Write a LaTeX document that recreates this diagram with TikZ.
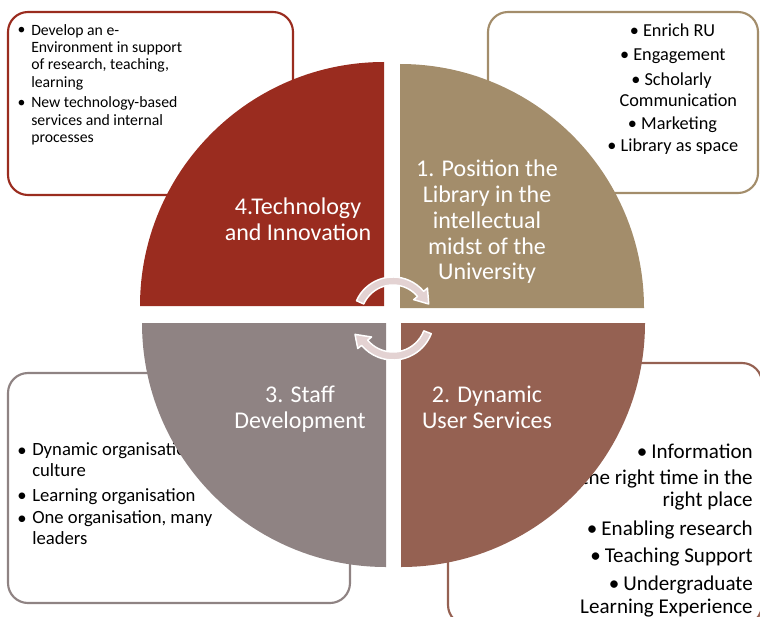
\documentclass[tikz,border=0pt]{standalone}
\usepackage{fontspec}
\setmainfont{Carlito}
\usetikzlibrary{calc}
\definecolor{cTL}{HTML}{9A2C1F}
\definecolor{cTR}{HTML}{A38D6B}
\definecolor{cBL}{HTML}{8F8383}
\definecolor{cBR}{HTML}{956152}
\definecolor{cArrow}{HTML}{E3D2D2}
\begin{document}
\begin{tikzpicture}[x=0.75pt,y=-0.75pt,
  boxsty/.style={line width=1.6pt, rounded corners=15pt},
  txt/.style={inner sep=0pt, text=black},
  tltxt/.style={txt, font=\fontsize{11.8}{13.1}\selectfont, align=left, anchor=base west},
  tlbul/.style={txt, font=\fontsize{11.8}{13.1}\selectfont, anchor=base},
  trtxt/.style={txt, font=\fontsize{13.7}{15}\selectfont, anchor=base},
  bltxt/.style={txt, font=\fontsize{14}{15.4}\selectfont, align=left, anchor=base west},
  blbul/.style={txt, font=\fontsize{14}{15.4}\selectfont, anchor=base},
  brtxt/.style={txt, font=\fontsize{15.8}{17}\selectfont, anchor=base east},
  qlabel/.style={inner sep=0pt, text=white, font=\fontsize{18}{19.3}\selectfont, align=center, anchor=base},
  arrowsty/.style={fill=cArrow, draw=white, line width=1.1pt, line join=round}
]
\useasboundingbox (0,0) rectangle (760,617);
\clip (0,0) rectangle (760,617);

% outer boxes
\draw[boxsty, draw=cTL] (8,12) rectangle (293,195);
\draw[boxsty, draw=cTR] (488,12) rectangle (758,193);
\draw[boxsty, draw=cBL] (8,373) rectangle (350,603);
\draw[boxsty, draw=cBR] (448,363) rectangle (762,625);

% top-left box text (multi-line nodes: base = last line)
\node[tlbul] (tlb1) at (21.5,35) {•};
\node[tltxt] (tlt1) at (31,87.4) {Develop an e-\\Environment in support\\of research, teaching,\\learning};
\node[tlbul] (tlb2) at (21.5,108) {•};
\node[tltxt] (tlt2) at (31,142.9) {New technology-based\\services and internal\\processes};

% top-right box text
\node[trtxt] (tr1) at (672.5,36.7) {• Enrich RU};
\node[trtxt] (tr2) at (672.8,61) {• Engagement};
\node[trtxt] (tr3) at (671.5,85) {• Scholarly};
\node[trtxt] (tr4) at (678.3,106) {Communication};
\node[trtxt] (tr5) at (672.5,129) {• Marketing};
\node[trtxt] (tr6) at (672.8,151.7) {• Library as space};

% bottom-left box text
\node[blbul] (blb1) at (22,456) {•};
\node[bltxt] (blt1) at (32,476.5) {Dynamic organisational\\culture};
\node[blbul] (blb2) at (22,501) {•};
\node[bltxt] (blt2) at (32,501) {Learning organisation};
\node[blbul] (blb3) at (22,524) {•};
\node[bltxt] (blt3) at (32,544.5) {One organisation, many\\leaders};

% bottom-right box text
\node[brtxt] (br1) at (753,458.3) {•\hspace{3pt}Information};
\node[brtxt] (br2) at (753,484) {at the right time in the};
\node[brtxt] (br3) at (753,506.7) {right place};
\node[brtxt] (br4) at (753,535.7) {•\hspace{3pt}Enabling research};
\node[brtxt] (br5) at (753,562.7) {•\hspace{3pt}Teaching Support};
\node[brtxt] (br6) at (753,590) {•\hspace{3pt}Undergraduate};
\node[brtxt] (br7) at (753,613.3) {Learning Experience};

% quadrants
\fill[cTL] (384,306) -- ++(-244,0) arc[start angle=180, end angle=270, radius=244] -- cycle;
\fill[cTR] (400,308) -- ++(0,-244) arc[start angle=270, end angle=360, radius=244] -- cycle;
\fill[cBL] (386,323) -- ++(-244,0) arc[start angle=180, end angle=90, radius=244] -- cycle;
\fill[cBR] (401,323) -- ++(244,0) arc[start angle=0, end angle=90, radius=244] -- cycle;

% quadrant labels (base = last line)
\node[qlabel] (q4) at (298,240.7) {4.Technology\\and Innovation};
\node[qlabel] (q1) at (487,279.9) {1. Position the\\Library in the\\intellectual\\midst of the\\University};
\node[qlabel] (q3) at (300,428.7) {3. Staff\\Development};
\node[qlabel] (q2) at (487,428.7) {2. Dynamic\\User Services};

% circular arrows
\coordinate (c1) at (393,317);
\coordinate (c2) at (393,319);
\filldraw[arrowsty] ($(c1)+(-156:40)$) arc[start angle=-156, end angle=-40, radius=40]
  -- ($(c1)+(-40:45)$) -- ($(c1)+(-20:38)$) -- ($(c1)+(-40:27)$) -- ($(c1)+(-40:32)$)
  arc[start angle=-40, end angle=-156, radius=32] -- cycle;
\filldraw[arrowsty] ($(c2)+(21:41)$) arc[start angle=21, end angle=140, radius=41]
  -- ($(c2)+(140:46)$) -- ($(c2)+(158:41)$) -- ($(c2)+(140:28)$) -- ($(c2)+(140:33)$)
  arc[start angle=140, end angle=21, radius=33] -- cycle;
\end{tikzpicture}
\end{document}
